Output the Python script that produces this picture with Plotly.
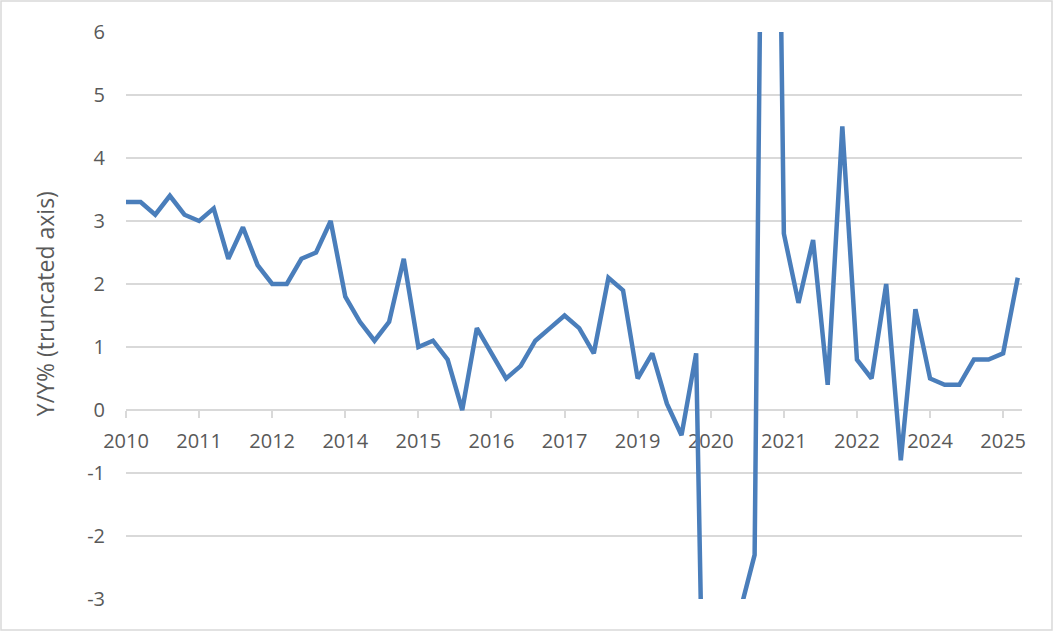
import plotly.graph_objects as go

# quarterly observations, 2010 Q1 .. 2025 Q2
quarter_index = list(range(62))
yoy_values = [
    3.3, 3.3, 3.1, 3.4, 3.1, 3.0, 3.2, 2.4, 2.9, 2.3,
    2.0, 2.0, 2.4, 2.5, 3.0, 1.8, 1.4, 1.1, 1.4, 2.4,
    1.0, 1.1, 0.8, 0.0, 1.3, 0.9, 0.5, 0.7, 1.1, 1.3,
    1.5, 1.3, 0.9, 2.1, 1.9, 0.5, 0.9, 0.1, -0.4, 0.9,
    -19.5, -24.0, -3.2, -2.3, 21.0, 2.8, 1.7, 2.7, 0.4, 4.5,
    0.8, 0.5, 2.0, -0.8, 1.6, 0.5, 0.4, 0.4, 0.8, 0.8,
    0.9, 2.1,
]
tick_positions = [0, 5, 10, 15, 20, 25, 30, 35, 40, 45, 50, 55, 60]
tick_labels = ["2010", "2011", "2012", "2014", "2015", "2016", "2017",
               "2019", "2020", "2021", "2022", "2024", "2025"]
y_tick_values = [-3, -2, -1, 0, 1, 2, 3, 4, 5, 6]
y_tick_labels = ["-3", "-2", "-1", "0", "1", "2", "3", "4", "5", "6"]
y_title = "Y/Y% (truncated axis)"

W, H = 1054, 632
L, R, T, B = 126, 32, 32, 33
pw, ph = W - L - R, H - T - B

grey_text = "#595959"
grid = "#d9d9d9"
font_family = "Open Sans, Noto Sans, sans-serif"

fig = go.Figure()
fig.add_trace(go.Scatter(
    x=quarter_index, y=yoy_values, mode="lines",
    line=dict(color="#4a7ebb", width=4.5),
    hoverinfo="skip", showlegend=False,
))

fig.update_layout(
    width=W, height=H,
    margin=dict(l=L, r=R, t=T, b=B, pad=0, autoexpand=False),
    paper_bgcolor="white", plot_bgcolor="white",
    font=dict(family=font_family, color=grey_text, size=20),
    xaxis=dict(
        range=[0, 61.29], tickmode="array",
        tickvals=tick_positions, ticktext=tick_labels,
        showgrid=False, zeroline=False, automargin=False,
        anchor="free", position=1/3,
        showline=True, linecolor=grid, linewidth=1.5,
        ticks="outside", ticklen=7, tickcolor=grid, tickwidth=1.5,
        ticklabelstandoff=6,
        tickfont=dict(size=20, color=grey_text),
        layer="below traces",
    ),
    yaxis=dict(
        range=[-3, 6], tickmode="array",
        tickvals=y_tick_values, ticktext=y_tick_labels,
        showgrid=True, gridcolor=grid, gridwidth=1.5,
        zeroline=False, showline=False, automargin=False,
        ticks="", ticklabelstandoff=20,
        tickfont=dict(size=20, color=grey_text),
    ),
    annotations=[dict(
        text=y_title, textangle=-90,
        xref="paper", yref="paper",
        x=(45 - L) / pw, y=0.52,
        xanchor="center", yanchor="middle",
        showarrow=False,
        font=dict(size=23, color=grey_text, family=font_family),
    )],
    shapes=[dict(
        type="rect", xref="paper", yref="paper",
        x0=(1 - L) / pw, x1=(W - 2 - L) / pw,
        y0=(T + ph - (H - 2)) / ph, y1=(T + ph - 1) / ph,
        line=dict(color=grid, width=1.5), fillcolor="rgba(0,0,0,0)",
        layer="below",
    )],
)

fig.write_html(
    "out.html",
    config={"displayModeBar": False},
    post_script="document.body.style.margin='0px';document.body.style.overflow='hidden';",
)
